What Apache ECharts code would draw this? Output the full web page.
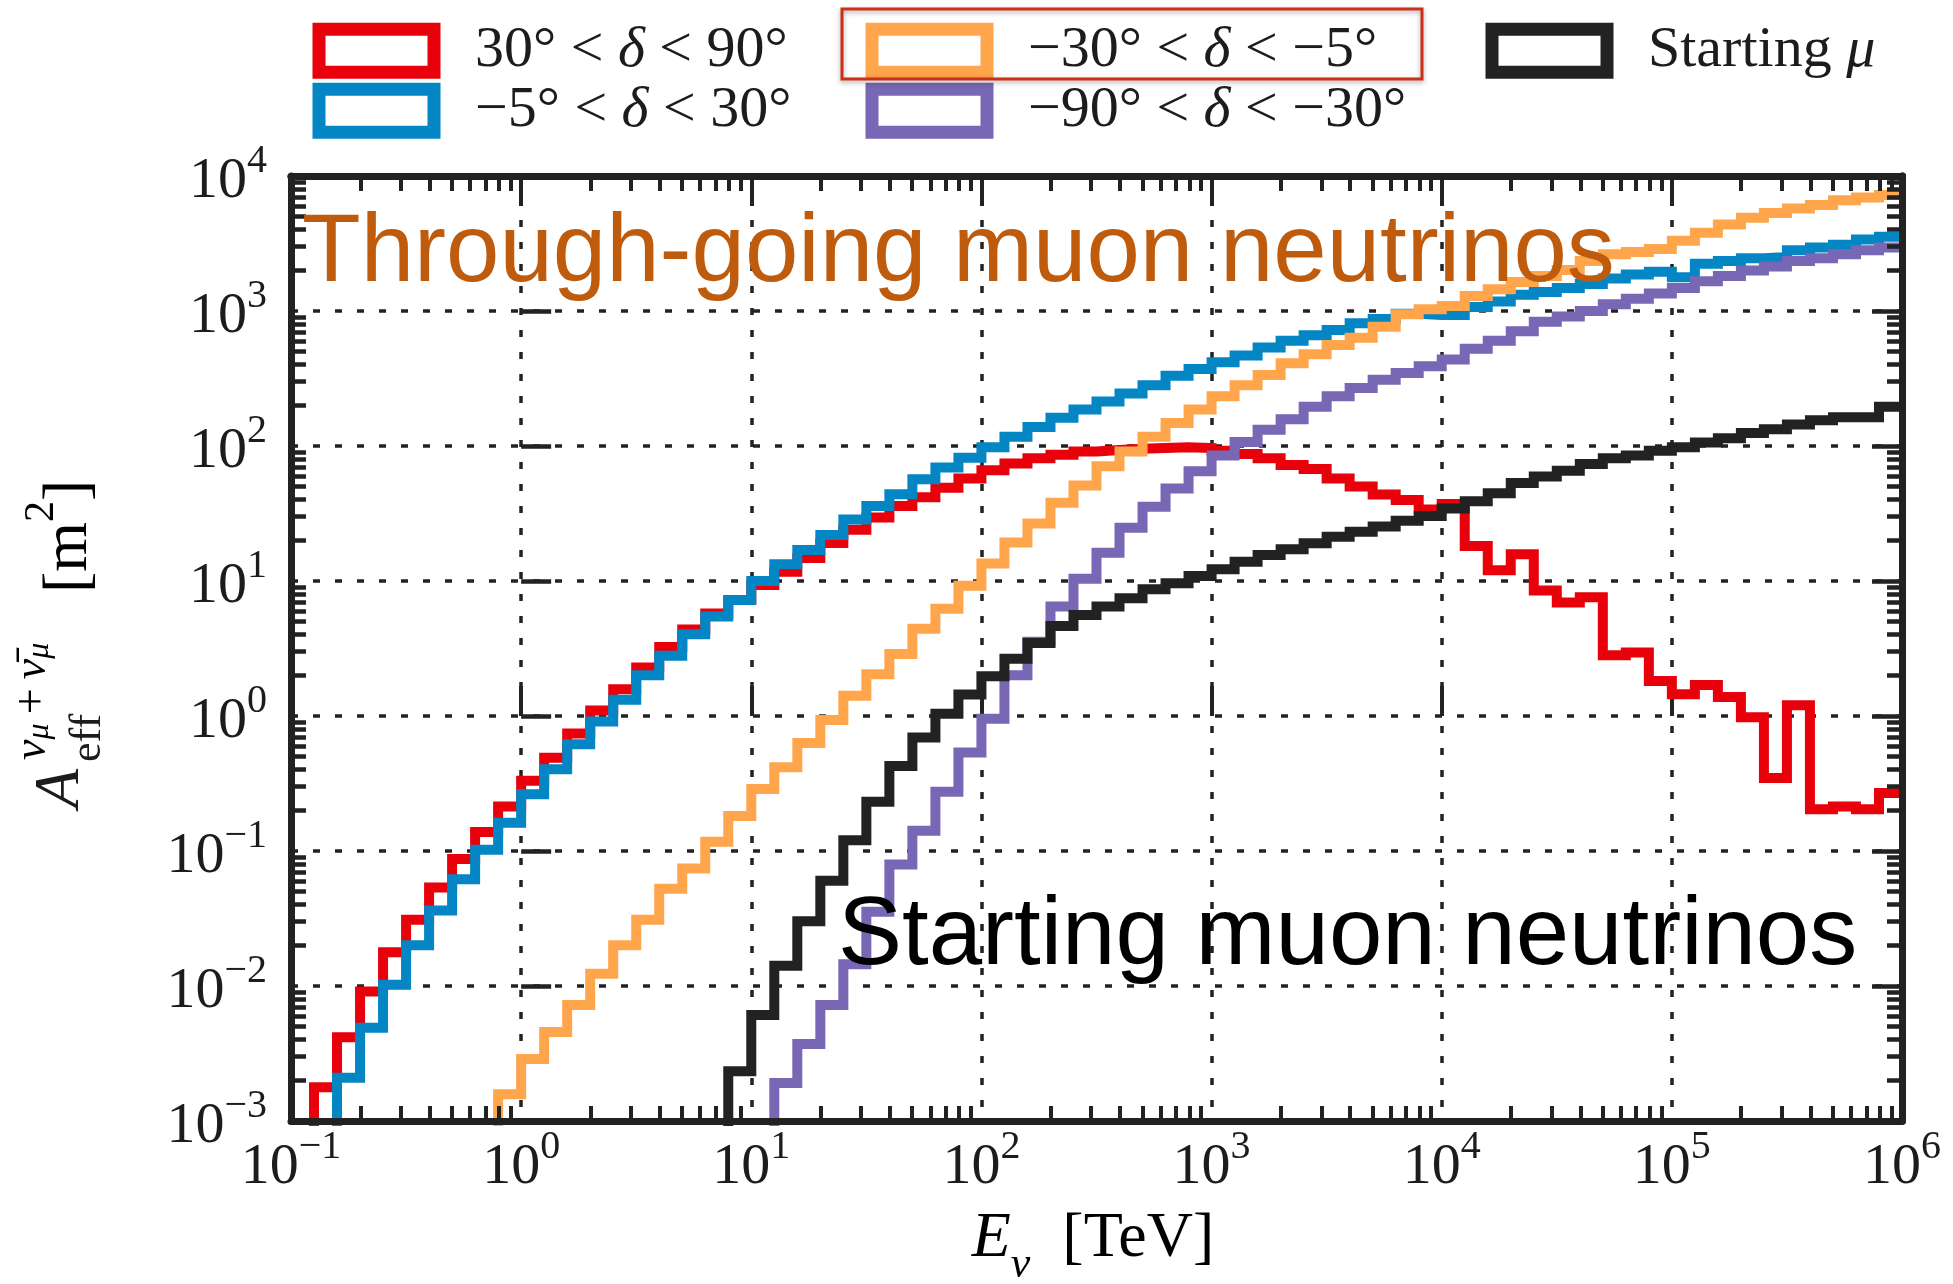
<!DOCTYPE html>
<html>
<head>
<meta charset="utf-8">
<script src="https://cdn.jsdelivr.net/npm/echarts@6/dist/echarts.min.js"></script>
<style>
html,body{margin:0;padding:0;background:#ffffff;}
#chart{width:1953px;height:1284px;}
</style>
</head>
<body>
<div id="chart"></div>
<script>
// ---------------- DATA ----------------
// histogram bin edges, log10(E_nu / TeV)
const binEdgesLog10 = [-1.0,-0.9,-0.8,-0.7,-0.6,-0.5,-0.4,-0.3,-0.2,-0.1,
  0.0,0.1,0.2,0.3,0.4,0.5,0.6,0.7,0.8,0.9,
  1.0,1.1,1.2,1.3,1.4,1.5,1.6,1.7,1.8,1.9,
  2.0,2.1,2.2,2.3,2.4,2.5,2.6,2.7,2.8,2.9,
  3.0,3.1,3.2,3.3,3.4,3.5,3.6,3.7,3.8,3.9,
  4.0,4.1,4.2,4.3,4.4,4.5,4.6,4.7,4.8,4.9,
  5.0,5.1,5.2,5.3,5.4,5.5,5.6,5.7,5.8,5.9,6.0];

const seriesNames = ['30° < δ < 90°', '−5° < δ < 30°', '−30° < δ < −5°', '−90° < δ < −30°', 'Starting μ'];

// effective area per bin [m^2]; null = empty bin (below plotted range)
const aeffNorth = [null,0.00178,0.00417,0.00912,0.0178,0.0309,0.0537,0.0871,0.138,0.214,
  0.331,0.490,0.741,1.10,1.58,2.29,3.24,4.37,5.75,7.24,
  9.33,11.7,14.8,19.1,24.0,29.5,36.0,41.7,49.0,57.5,
  66.1,74.1,81.3,86.1,91.2,93.3,95.5,96.6,97.7,96.6,
  92.3,87.1,81.3,72.4,67.6,57.5,50.1,43.7,39.8,33.9,
  37.2,18.2,12.0,15.8,8.51,6.92,7.59,2.82,2.95,1.82,
  1.45,1.70,1.38,0.977,0.347,1.20,0.204,0.214,0.204,0.269];

const aeffHorizon = [null,null,0.00209,0.00490,0.0102,0.0200,0.0363,0.0617,0.102,0.162,
  0.263,0.403,0.617,0.912,1.32,2.00,2.79,4.03,5.45,7.24,
  10.0,13.3,17.0,21.9,28.6,36.0,43.9,56.6,69.2,82.0,
  97.7,117,138,162,186,214,245,282,331,372,
  417,468,537,603,661,724,813,871,955,933,
  933,1072,1175,1318,1380,1479,1585,1738,1862,1950,
  1778,2239,2344,2455,2512,2818,2951,3090,3388,3548];

const aeffMidSouth = [null,null,null,null,null,null,null,null,null,0.00158,
  0.00288,0.00457,0.00724,0.0123,0.0200,0.0309,0.0525,0.0741,0.117,0.182,
  0.288,0.417,0.631,0.933,1.41,2.04,2.88,4.42,6.24,9.23,
  13.5,19.3,26.7,38.0,50.9,70.8,91.2,117,148,186,
  234,282,336,410,478,560,635,766,946,1030,
  1089,1291,1449,1641,1816,2014,2350,2630,2735,2884,
  3311,3802,4365,4898,5309,5754,6095,6607,6918,7244];

const aeffSouth = [null,null,null,null,null,null,null,null,null,null,
  null,null,null,null,null,null,null,null,null,null,
  null,0.00191,0.00372,0.00724,0.0145,0.0355,0.0794,0.141,0.275,0.537,
  0.955,2.00,3.55,6.46,10.4,16.2,24.8,35.5,48.5,64.9,
  85.1,107,132,158,195,234,269,309,347,389,
  437,525,603,708,832,912,1000,1122,1230,1349,
  1479,1660,1820,1995,2138,2344,2455,2630,2818,2951];

const aeffStarting = [null,null,null,null,null,null,null,null,null,null,
  null,null,null,null,null,null,null,null,null,0.00234,
  0.00610,0.0141,0.0302,0.0603,0.120,0.232,0.427,0.692,1.04,1.44,
  1.97,2.66,3.47,4.65,5.60,6.46,7.45,8.67,9.62,10.9,
  12.2,13.9,15.6,17.2,19.0,21.3,23.2,25.3,27.9,30.3,
  34.4,38.9,44.7,53.3,59.4,65.6,73.5,81.1,85.1,92.3,
  97.7,106,114,125,133,144,155,163,163,195];

const xTickExponents = [-1,0,1,2,3,4,5,6];
const yTickExponents = [-3,-2,-1,0,1,2,3,4];

// ---------------- STYLE ----------------
const COLORS = ['#E8000B', '#0485C4', '#FFA64D', '#7767B4', '#222222'];
const SERIF = '"Liberation Serif", "DejaVu Serif", serif';
const SANS = '"Liberation Sans", Arial, sans-serif';
const INK = '#1c1c1c';
const EMPTY_BIN_FLOOR = 1e-7;

function histData(values) {
  const pts = [];
  let last = null;
  for (let i = 0; i < values.length; i++) {
    const v = values[i] == null ? EMPTY_BIN_FLOOR : values[i];
    if (values[i] != null) last = values[i];
    pts.push([Math.pow(10, binEdgesLog10[i]), v]);
  }
  pts.push([Math.pow(10, binEdgesLog10[values.length]), last]);
  return pts;
}

function minorLog(fromExp, toExp) {
  const out = [];
  for (let d = fromExp; d < toExp; d++) {
    for (let m = 2; m <= 9; m++) out.push(d + Math.log10(m));
  }
  return out;
}

const labelRich = {
  b: {fontFamily: SERIF, fontSize: 58, lineHeight: 70, verticalAlign: 'bottom', color: INK},
  s: {fontFamily: SERIF, fontSize: 40, lineHeight: 44, verticalAlign: 'top', color: INK}
};
function powLabel(v) {
  const e = Math.round(Math.log10(v));
  return '{b|10}{s|' + (e < 0 ? '\u2212' + (-e) : String(e)) + '}';
}

const legendRich = {
  g: {width: 36},
  r: {fontFamily: SERIF, fontSize: 58, color: INK},
  i: {fontFamily: SERIF, fontSize: 58, fontStyle: 'italic', color: INK}
};
function legendLabel(name) {
  let out = '{g|\u00a0}';
  let buf = '';
  for (const ch of name) {
    if (ch === 'δ' || ch === 'μ') {
      if (buf) { out += '{r|' + buf + '}'; buf = ''; }
      out += '{i|' + ch + '}';
    } else buf += ch;
  }
  if (buf) out += '{r|' + buf + '}';
  return out;
}
function legendItem(idx) {
  return {name: seriesNames[idx], icon: 'rect',
    itemStyle: {color: '#ffffff', borderColor: COLORS[idx], borderWidth: 13}};
}
const legendBase = {
  orient: 'vertical', padding: 0, itemWidth: 115, itemHeight: 43, itemGap: 2,
  selectedMode: false, icon: 'rect',
  textStyle: {fontFamily: SERIF, fontSize: 58, color: INK, rich: legendRich},
  formatter: legendLabel
};
const LEGEND_TOP = 21.7;

const gridLine = {show: true, lineStyle: {color: '#222', width: 3.5, type: [7, 15]}};
const frameLine = {show: true, onZero: false, lineStyle: {color: '#222', width: 7}};

function valueMinorAxis(pos, lo, hi, len, w) {
  return {type: 'value', position: pos, min: lo, max: hi, z: 10,
    axisLine: frameLine,
    axisTick: {show: true, inside: true, length: len, customValues: minorLog(lo, hi),
      lineStyle: {color: '#222', width: w}},
    axisLabel: {show: false}, splitLine: {show: false}};
}

const option = {
  backgroundColor: '#ffffff',
  animation: false,
  grid: {left: 291, top: 176, width: 1611, height: 945, outerBoundsMode: 'none', containLabel: false},
  legend: [
    Object.assign({}, legendBase, {left: 312.5, top: LEGEND_TOP, data: [legendItem(0), legendItem(1)]}),
    Object.assign({}, legendBase, {left: 865.5, top: LEGEND_TOP, data: [legendItem(2), legendItem(3)]}),
    Object.assign({}, legendBase, {left: 1485.5, top: LEGEND_TOP, data: [legendItem(4)]})
  ],
  xAxis: [
    {type: 'log', logBase: 10, position: 'bottom', min: Math.pow(10, xTickExponents[0]),
      max: Math.pow(10, xTickExponents[xTickExponents.length - 1]),
      axisLine: {show: false},
      axisTick: {show: true, inside: true, length: 30, lineStyle: {color: '#222', width: 4}},
      axisLabel: {show: true, margin: 6, formatter: powLabel, rich: labelRich, showMinLabel: true, showMaxLabel: true},
      splitLine: gridLine},
    valueMinorAxis('bottom', xTickExponents[0], xTickExponents[xTickExponents.length - 1], 15, 4),
    {type: 'log', logBase: 10, position: 'top', z: 10, min: Math.pow(10, xTickExponents[0]),
      max: Math.pow(10, xTickExponents[xTickExponents.length - 1]),
      axisLine: frameLine,
      axisTick: {show: true, inside: true, length: 30, lineStyle: {color: '#222', width: 4}},
      axisLabel: {show: false}, splitLine: {show: false}},
    valueMinorAxis('top', xTickExponents[0], xTickExponents[xTickExponents.length - 1], 15, 4)
  ],
  yAxis: [
    {type: 'log', logBase: 10, position: 'left', min: Math.pow(10, yTickExponents[0]),
      max: Math.pow(10, yTickExponents[yTickExponents.length - 1]),
      axisLine: {show: false},
      axisTick: {show: true, inside: true, length: 30, lineStyle: {color: '#222', width: 4.5}},
      axisLabel: {show: true, margin: 24, formatter: powLabel, rich: labelRich, showMinLabel: true, showMaxLabel: true},
      splitLine: gridLine},
    valueMinorAxis('left', yTickExponents[0], yTickExponents[yTickExponents.length - 1], 15, 4.5),
    {type: 'log', logBase: 10, position: 'right', z: 10, min: Math.pow(10, yTickExponents[0]),
      max: Math.pow(10, yTickExponents[yTickExponents.length - 1]),
      axisLine: frameLine,
      axisTick: {show: true, inside: true, length: 30, lineStyle: {color: '#222', width: 4.5}},
      axisLabel: {show: false}, splitLine: {show: false}},
    valueMinorAxis('right', yTickExponents[0], yTickExponents[yTickExponents.length - 1], 15, 4.5)
  ],
  series: [aeffNorth, aeffHorizon, aeffMidSouth, aeffSouth, aeffStarting].map(function (vals, i) {
    return {
      name: seriesNames[i], type: 'line', step: 'end', xAxisIndex: 0, yAxisIndex: 0,
      data: histData(vals), symbol: 'none', showSymbol: false, clip: true, z: 2 + i * 0.01,
      itemStyle: {color: COLORS[i]},
      lineStyle: {color: COLORS[i], width: 10, join: 'miter', cap: 'butt'},
      emphasis: {disabled: true}
    };
  }),
  graphic: [
    {type: 'text', x: 302, y: 255, z: 100, silent: true,
      style: {text: 'Through-going muon neutrinos', fill: '#BE5B0D',
        font: '96px ' + SANS, textAlign: 'left', textVerticalAlign: 'middle'}},
    {type: 'text', x: 838, y: 938, z: 100, silent: true,
      style: {text: 'Starting muon neutrinos', fill: '#000000',
        font: '96px ' + SANS, textAlign: 'left', textVerticalAlign: 'middle'}},
    {type: 'rect', z: 100, silent: true,
      shape: {x: 842, y: 9, width: 580, height: 70},
      style: {fill: 'none', stroke: '#CC3118', lineWidth: 3,
        shadowBlur: 5, shadowColor: 'rgba(0,0,0,0.35)', shadowOffsetY: 2}},
    // x-axis title
    {type: 'text', x: 1093, y: 1247, z: 100, silent: true,
      style: {text: '{i|E}{n|ν}{r|\u2002[TeV]}', textAlign: 'center', textVerticalAlign: 'middle',
        rich: {
          i: {fontFamily: SERIF, fontSize: 64, fontStyle: 'italic', lineHeight: 80, verticalAlign: 'top', color: INK},
          n: {fontFamily: SERIF, fontSize: 44, fontStyle: 'italic', lineHeight: 40, verticalAlign: 'bottom', color: INK},
          r: {fontFamily: SERIF, fontSize: 64, lineHeight: 80, verticalAlign: 'top', color: INK}
        }}},
    // y-axis title (rotated)
    {type: 'group', x: 83, y: 808, rotation: Math.PI / 2, z: 100, silent: true,
      children: [
        {type: 'text', x: 0, y: -21.6,
          style: {text: 'A', fill: INK, font: 'italic 64px ' + SERIF, textAlign: 'left', textVerticalAlign: 'middle'}},
        {type: 'text', x: 46, y: 5,
          style: {text: 'eff', fill: INK, font: '44px ' + SERIF, textAlign: 'left', textVerticalAlign: 'middle'}},
        {type: 'text', x: 48, y: -73,
          style: {text: '{n|ν}{m|μ}{p|\u2009+\u2009}{n|ν\u0304}{m|μ}', textAlign: 'left', textVerticalAlign: 'top',
            rich: {
              n: {fontFamily: SERIF, fontSize: 46, fontStyle: 'italic', lineHeight: 46, verticalAlign: 'top', color: INK},
              m: {fontFamily: SERIF, fontSize: 32, fontStyle: 'italic', lineHeight: 20, verticalAlign: 'bottom', color: INK},
              p: {fontFamily: SERIF, fontSize: 46, lineHeight: 46, verticalAlign: 'top', color: INK}
            }}},
        {type: 'text', x: 215, y: -62,
          style: {text: '{r|[m}{s|2}{r|]}', textAlign: 'left', textVerticalAlign: 'top',
            rich: {
              r: {fontFamily: SERIF, fontSize: 64, lineHeight: 80, verticalAlign: 'bottom', color: INK},
              s: {fontFamily: SERIF, fontSize: 42, lineHeight: 56, verticalAlign: 'top', color: INK}
            }}}
      ]}
  ]
};

const chart = echarts.init(document.getElementById('chart'), null, {renderer: 'canvas'});
chart.setOption(option);
</script>
</body>
</html>
